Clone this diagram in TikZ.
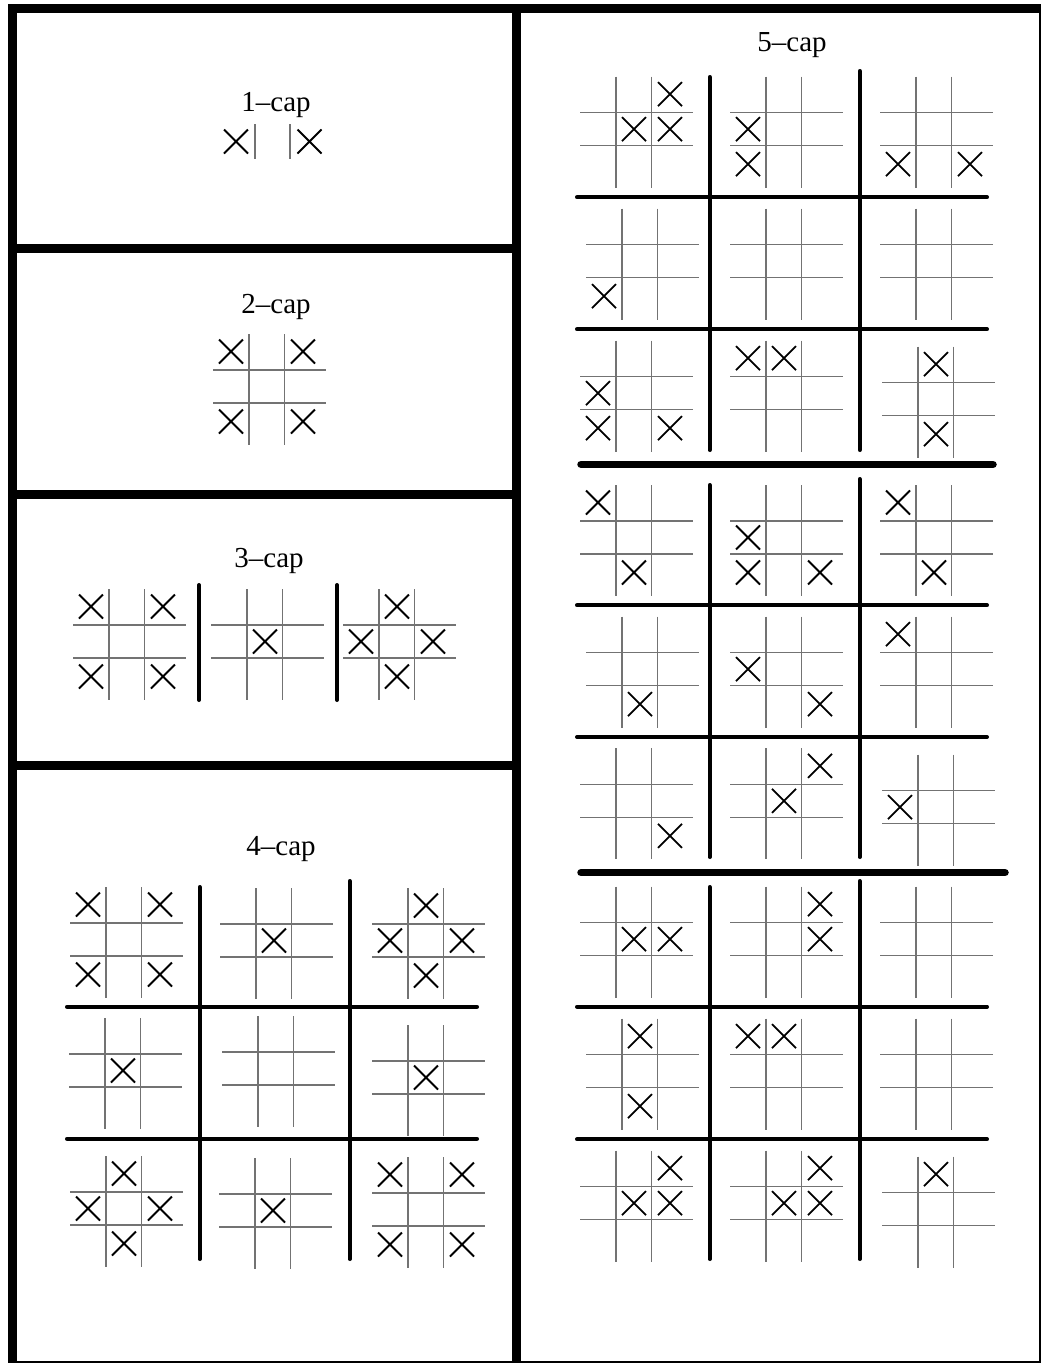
\documentclass[tikz,border=0pt]{standalone}
\usepackage{fontspec}
\setmainfont{Liberation Serif}

\tikzset{
  frame/.style={line width=9pt},
  thinframe/.style={line width=2pt},
  gridline/.style={line width=1.1pt, black!55},
  xmark/.style={line width=1.8pt},
  sep/.style={line width=4pt, line cap=round},
  bigsep/.style={line width=7.5pt, line cap=round},
  caplabel/.style={font=\fontsize{29}{34}\selectfont, anchor=base, inner sep=0pt}
}

% one tic-tac-toe board, first vertical line at x=#1, first horizontal line at y=#2
\newcommand{\tttboard}[2]{%
  \draw[gridline] (#1-36,#2) -- (#1+77,#2)
                  (#1-36,#2+33) -- (#1+77,#2+33)
                  (#1,#2-36) -- (#1,#2+75)
                  (#1+35.5,#2-36) -- (#1+35.5,#2+75);}
% crosses in cells row/col of that board
\newcommand{\tttmarks}[3]{%
  \foreach \rr/\cc in {#3}{%
    \pgfmathsetmacro{\cx}{#1-18+36*\cc}
    \pgfmathsetmacro{\cy}{#2-18.5+35*\rr}
    \draw[xmark] (\cx-12,\cy-12) -- ++(24,24) (\cx-12,\cy+12) -- ++(24,-24);}}

\begin{document}
\begin{tikzpicture}[x=1pt,y=-1pt]
  \useasboundingbox (0,0) rectangle (1041,1363);

  % Frame
  \draw[frame] (8,8.5) -- (1041,8.5);
  \draw[frame] (12.5,4) -- (12.5,1370);
  \draw[frame] (516.5,4) -- (516.5,1370);
  \draw[frame] (8,1365) -- (1041,1365);
  \draw[frame] (12.5,248.5) -- (516.5,248.5);
  \draw[frame] (12.5,494) -- (516.5,494);
  \draw[frame] (12.5,765) -- (516.5,765);
  \draw[thinframe] (1039.5,8.5) -- (1039.5,1363);

  % 1-cap
  \node[caplabel] (lab1) at (276,111) {1--cap};
  \draw[gridline] (255,124) -- (255,159) (290,124) -- (290,159);
  \draw[xmark] (224,129.5) -- ++(24,24) (224,153.5) -- ++(24,-24);
  \draw[xmark] (297.5,129.5) -- ++(24,24) (297.5,153.5) -- ++(24,-24);

  % 2-cap
  \node[caplabel] (lab2) at (276,313) {2--cap};
  \tttboard{249}{370}
  \tttmarks{249}{370}{0/0,0/2,2/0,2/2}

  % 3-cap
  \node[caplabel] (lab3) at (269,567) {3--cap};
  \tttboard{109}{625}
  \tttmarks{109}{625}{0/0,0/2,2/0,2/2}
  \draw[sep] (199,585) -- (199,700);
  \tttboard{247}{625}
  \tttmarks{247}{625}{1/1}
  \draw[sep] (337,585) -- (337,700);
  \tttboard{379}{625}
  \tttmarks{379}{625}{0/1,1/0,1/2,2/1}

  % 4-cap
  \node[caplabel] (lab4) at (281,855) {4--cap};
  \draw[sep] (199.7,887) -- (199.7,1259);
  \draw[sep] (349.7,881) -- (349.7,1259);
  \draw[sep] (67,1006.7) -- (477,1006.7);
  \draw[sep] (67,1138.7) -- (477,1138.7);
  \tttboard{106}{923}  \tttmarks{106}{923}{0/0,0/2,2/0,2/2}
  \tttboard{256}{924}  \tttmarks{256}{924}{1/1}
  \tttboard{408}{924}  \tttmarks{408}{924}{0/1,1/0,1/2,2/1}
  \tttboard{105}{1054} \tttmarks{105}{1054}{1/1}
  \tttboard{258}{1052}
  \tttboard{408}{1061} \tttmarks{408}{1061}{1/1}
  \tttboard{106}{1192} \tttmarks{106}{1192}{0/1,1/0,1/2,2/1}
  \tttboard{255}{1194} \tttmarks{255}{1194}{1/1}
  \tttboard{408}{1193} \tttmarks{408}{1193}{0/0,0/2,2/0,2/2}

  % 5-cap
  \node[caplabel] (lab5) at (792,51.7) {5--cap};
  \draw[bigsep] (581,464.3) -- (993,464.3);
  \draw[bigsep] (581,872.7) -- (1005,872.7);

  % 5-cap, first block
  \draw[sep] (709.7,77) -- (709.7,450);
  \draw[sep] (859.7,71) -- (859.7,450);
  \draw[sep] (577,197.3) -- (987,197.3);
  \draw[sep] (577,329.3) -- (987,329.3);
  \tttboard{616}{112.7} \tttmarks{616}{112.7}{0/2,1/1,1/2}
  \tttboard{766}{112.7} \tttmarks{766}{112.7}{1/0,2/0}
  \tttboard{916}{112.7} \tttmarks{916}{112.7}{2/0,2/2}
  \tttboard{622}{244.7} \tttmarks{622}{244.7}{2/0}
  \tttboard{766}{244.7}
  \tttboard{916}{244.7}
  \tttboard{616}{376.7} \tttmarks{616}{376.7}{1/0,2/0,2/2}
  \tttboard{766}{376.7} \tttmarks{766}{376.7}{0/0,0/1}
  \tttboard{918}{382.7} \tttmarks{918}{382.7}{0/1,2/1}

  % 5-cap, second block
  \draw[sep] (709.7,485) -- (709.7,857);
  \draw[sep] (859.7,479) -- (859.7,857);
  \draw[sep] (577,605.3) -- (987,605.3);
  \draw[sep] (577,737) -- (987,737);
  \tttboard{616}{521} \tttmarks{616}{521}{0/0,2/1}
  \tttboard{766}{521} \tttmarks{766}{521}{1/0,2/0,2/2}
  \tttboard{916}{521} \tttmarks{916}{521}{0/0,2/1}
  \tttboard{622}{652.7} \tttmarks{622}{652.7}{2/1}
  \tttboard{766}{652.7} \tttmarks{766}{652.7}{1/0,2/2}
  \tttboard{916}{652.7} \tttmarks{916}{652.7}{0/0}
  \tttboard{616}{784.3} \tttmarks{616}{784.3}{2/2}
  \tttboard{766}{784.3} \tttmarks{766}{784.3}{0/2,1/1}
  \tttboard{918}{790.7} \tttmarks{918}{790.7}{1/0}

  % 5-cap, third block
  \draw[sep] (709.7,887) -- (709.7,1259);
  \draw[sep] (859.7,881) -- (859.7,1259);
  \draw[sep] (577,1006.7) -- (987,1006.7);
  \draw[sep] (577,1139.3) -- (987,1139.3);
  \tttboard{616}{922.7} \tttmarks{616}{922.7}{1/1,1/2}
  \tttboard{766}{922.7} \tttmarks{766}{922.7}{0/2,1/2}
  \tttboard{916}{922.7}
  \tttboard{622}{1054.7} \tttmarks{622}{1054.7}{0/1,2/1}
  \tttboard{766}{1054.7} \tttmarks{766}{1054.7}{0/0,0/1}
  \tttboard{916}{1054.7}
  \tttboard{616}{1186.7} \tttmarks{616}{1186.7}{0/2,1/1,1/2}
  \tttboard{766}{1186.7} \tttmarks{766}{1186.7}{0/2,1/1,1/2}
  \tttboard{918}{1192.7} \tttmarks{918}{1192.7}{0/1}
\end{tikzpicture}
\end{document}
